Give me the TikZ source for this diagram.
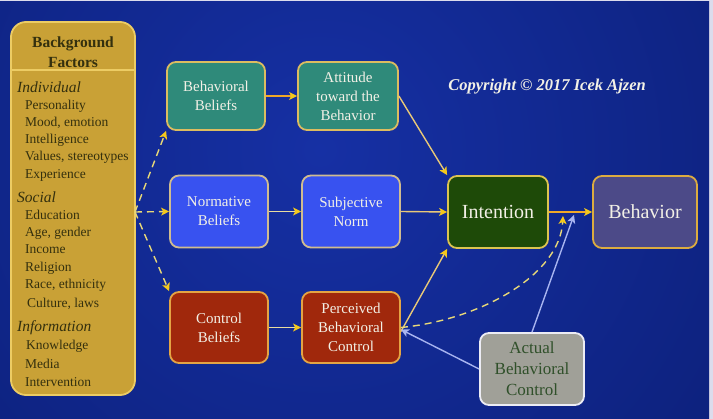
\documentclass[tikz,border=0pt]{standalone}
\usepackage{fontspec}
\setmainfont{Liberation Serif}
\usetikzlibrary{arrows.meta}
\definecolor{bgin}{HTML}{1630A4}
\definecolor{bgout}{HTML}{061660}
\definecolor{edgecol}{HTML}{DCDCEC}
\definecolor{bffill}{HTML}{C9A136}
\definecolor{bfdraw}{HTML}{ECCC64}
\definecolor{bftext}{HTML}{34300E}
\definecolor{tealf}{HTML}{2F8A7A}
\definecolor{tealb}{HTML}{DCBC60}
\definecolor{bluef}{HTML}{3852F0}
\definecolor{blueb}{HTML}{D0BC90}
\definecolor{redf}{HTML}{A0280C}
\definecolor{redb}{HTML}{E4A444}
\definecolor{greenf}{HTML}{1E4A08}
\definecolor{greenb}{HTML}{DCC450}
\definecolor{purf}{HTML}{4C4A88}
\definecolor{purb}{HTML}{DCAC40}
\definecolor{grayf}{HTML}{A0A098}
\definecolor{grayb}{HTML}{ECECF4}
\definecolor{graytext}{HTML}{30502A}
\definecolor{boxtext}{HTML}{F2F0E6}
\definecolor{orangeA}{HTML}{F0A828}
\definecolor{paleA}{HTML}{E8DCA0}
\definecolor{paleB}{HTML}{E8C878}
\definecolor{dashc}{HTML}{E8D878}
\definecolor{bluel}{HTML}{A8B4F0}
\definecolor{tipc}{HTML}{F4C81C}
\begin{document}
\begin{tikzpicture}[x=1pt,y=-1pt,
  box/.style={draw, line width=1.8pt, rounded corners=9pt, align=center, inner sep=2pt,
    text=boxtext, font=\fontsize{15}{19}\selectfont},
  arr/.style={-{Stealth[length=8pt,width=8pt,inset=2pt,color=tipc]}, line width=1.4pt},
  dsh/.style={arr, draw=dashc, dash pattern=on 7pt off 5pt},
  barr/.style={-{Stealth[length=8pt,width=8pt,inset=2pt,color=bluel]}, line width=1.4pt, draw=bluel},
  bfitem/.style={anchor=west, inner sep=0pt, text=bftext, font=\fontsize{13.5}{16}\selectfont},
  bfhead/.style={anchor=west, inner sep=0pt, text=bftext, font=\itshape\fontsize{15.5}{18}\selectfont}
]
\useasboundingbox (0,0) rectangle (713,419);
\fill[edgecol] (0,0) rectangle (713,419);
\begin{scope}
\clip (0,2) rectangle (709,419);
\shade[inner color=bgin, outer color=bgout] (320,150) circle[radius=840pt];
\end{scope}

% Background factors box
\node[draw=bfdraw, fill=bffill, line width=1.8pt, rounded corners=15pt,
  minimum width=124pt, minimum height=373pt, inner sep=0pt] (bf) at (73,208.5) {};
\node[align=center, inner sep=0pt, text=bftext, font=\bfseries\fontsize{15.5}{20}\selectfont] (bft) at (73,52) {Background\\Factors};
\draw[bfdraw, line width=1.2pt] (bf.west |- 0,70) -- (bf.east |- 0,70);
\node[bfhead] (h1) at (17,87) {Individual};
\node[bfitem] (i1) at (25,106) {Personality};
\node[bfitem] (i2) at (25,123) {Mood, emotion};
\node[bfitem] (i3) at (25,140) {Intelligence};
\node[bfitem] (i4) at (25,157) {Values, stereotypes};
\node[bfitem] (i5) at (25,175) {Experience};
\node[bfhead] (h2) at (17,197) {Social};
\node[bfitem] (i6) at (25,215) {Education};
\node[bfitem] (i7) at (25,233) {Age, gender};
\node[bfitem] (i8) at (25,249) {Income};
\node[bfitem] (i9) at (25,268) {Religion};
\node[bfitem] (i10) at (25,285) {Race, ethnicity};
\node[bfitem] (i11) at (27,304) {Culture, laws};
\node[bfhead] (h3) at (17,328) {Information};
\node[bfitem] (i12) at (26,346) {Knowledge};
\node[bfitem] (i13) at (25,364) {Media};
\node[bfitem] (i14) at (25,382) {Intervention};

% main boxes
\node[box, fill=tealf, draw=tealb, minimum width=98pt, minimum height=68pt] (bb) at (216,96) {Behavioral\\Beliefs};
\node[box, fill=tealf, draw=tealb, minimum width=100pt, minimum height=68pt] (att) at (348,96) {Attitude\\toward the\\Behavior};
\node[box, fill=bluef, draw=blueb, minimum width=98pt, minimum height=72pt] (nb) at (219,211.5) {Normative\\Beliefs};
\node[box, fill=bluef, draw=blueb, minimum width=98pt, minimum height=72pt] (sn) at (351,211.5) {Subjective\\Norm};
\node[box, fill=redf, draw=redb, minimum width=98pt, minimum height=71pt] (cb) at (219,327.5) {Control\\Beliefs};
\node[box, fill=redf, draw=redb, minimum width=98pt, minimum height=71pt] (pbc) at (351,327.5) {Perceived\\Behavioral\\Control};
\node[box, fill=greenf, draw=greenb, minimum width=100pt, minimum height=72pt, font=\fontsize{20}{24}\selectfont] (int) at (498,212) {Intention};
\node[box, fill=purf, draw=purb, minimum width=104pt, minimum height=72pt, font=\fontsize{20}{24}\selectfont] (beh) at (645,212) {Behavior};
\node[box, fill=grayf, draw=grayb, text=graytext, minimum width=104pt, minimum height=72pt, font=\fontsize{17}{21}\selectfont] (abc) at (532,369) {Actual\\Behavioral\\Control};

\node[text=boxtext, inner sep=0pt, font=\bfseries\itshape\fontsize{16.5}{19}\selectfont] (copy) at (547,87) {Copyright © 2017 Icek Ajzen};

% connectors
\coordinate (bo) at (135,212);
\coordinate (m1) at (563,216);
\coordinate (m2) at (574,215);
\draw[dsh] (bo) -- (bb.south west);
\draw[dsh] (bo) -- (nb.west);
\draw[dsh] (bo) -- (cb.north west);
\draw[arr, draw=orangeA] (bb) -- (att);
\draw[arr, draw=paleA] (nb) -- (sn);
\draw[arr, draw=paleA] (cb) -- (pbc);
\draw[arr, draw=paleB] (sn.east) -- (int.west);
\draw[arr, draw=paleB] (att.east) -- (int.north west);
\draw[arr, draw=paleB] ([yshift=-4pt]pbc.east) -- (int.south west);
\draw[arr, draw=orangeA] (int) -- (beh);
\draw[dsh] (pbc.east) .. controls (480,320) and (560,275) .. (m1);
\draw[barr] (abc.north) -- (m2);
\draw[barr] (abc.west) -- ([yshift=-2pt]pbc.east);
\end{tikzpicture}
\end{document}
